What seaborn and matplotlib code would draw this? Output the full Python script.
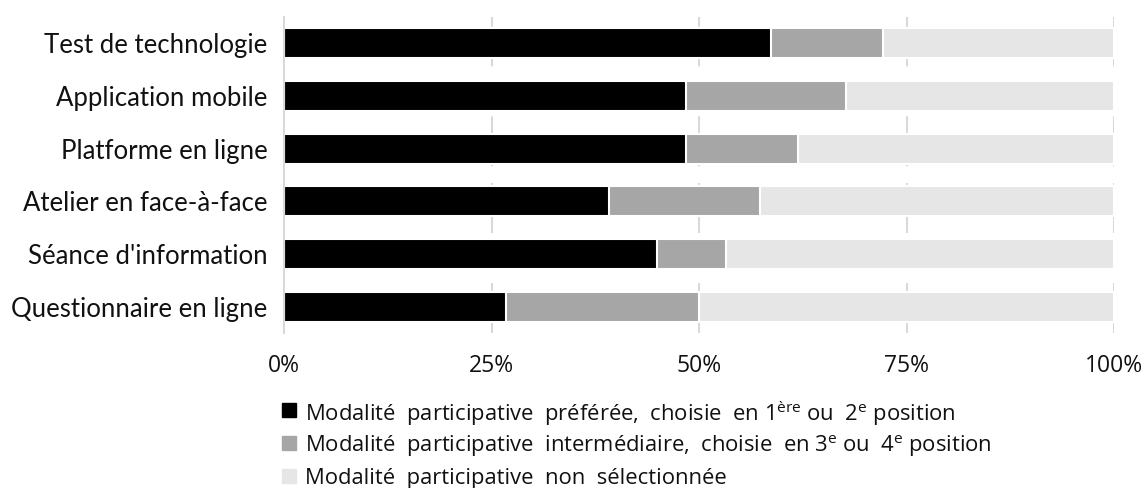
import matplotlib
matplotlib.use("Agg")
import matplotlib.pyplot as plt
import seaborn as sns
import pandas as pd
from matplotlib.lines import Line2D

categories = ["Test de technologie", "Application mobile", "Platforme en ligne",
              "Atelier en face-à-face", "Séance d'information", "Questionnaire en ligne"]
preferee = [58.7, 48.4, 48.4, 39.1, 44.9, 26.8]
intermediaire = [13.5, 19.3, 13.5, 18.2, 8.3, 23.2]
non_selectionnee = [27.8, 32.3, 38.1, 42.7, 46.8, 50.0]
xticks = [0, 25, 50, 75, 100]
xticklabels = ["0%", "25%", "50%", "75%", "100%"]
legend_labels = [
    r"Modalité  participative  préférée,  choisie  en 1$^{\mathrm{ère}}$ ou  2$^{\mathrm{e}}$ position",
    r"Modalité  participative  intermédiaire,  choisie  en 3$^{\mathrm{e}}$ ou  4$^{\mathrm{e}}$ position",
    "Modalité  participative  non  sélectionnée",
]
colors = ["#000000", "#a6a6a6", "#e6e6e6"]

sns.set_theme(style="white")
plt.rcParams["font.family"] = ["Open Sans", "DejaVu Sans"]
plt.rcParams["mathtext.fontset"] = "custom"
plt.rcParams["mathtext.rm"] = "Open Sans"

df = pd.DataFrame({
    "cat": categories,
    "p": preferee,
    "i": intermediaire,
    "n": non_selectionnee,
})
df["c1"] = df["p"]
df["c2"] = df["p"] + df["i"]
df["c3"] = df["p"] + df["i"] + df["n"]

W, H = 1148, 488
fig = plt.figure(figsize=(W / 100, H / 100), dpi=100)
ax = fig.add_axes([0.2474, 0.3168, 0.7230, 0.649])

for col, colr in zip(["c3", "c2", "c1"], colors[::-1]):
    sns.barplot(data=df, y="cat", x=col, color=colr, orient="h", width=0.57,
                edgecolor="white", linewidth=1.5, saturation=1, ax=ax, zorder=3)

ax.set_xlim(0, 100)
ax.set_xticks(xticks)
ax.set_xticklabels(xticklabels, fontsize=16.5, color="#111111")
ax.set_xlabel("")
ax.set_ylabel("")
ax.tick_params(axis="y", length=0, pad=12)
for lab in ax.get_yticklabels():
    lab.set_fontfamily(["Lato", "DejaVu Sans"])
    lab.set_fontsize(18.5)
    lab.set_color("#111111")
ax.tick_params(axis="x", length=0, pad=15)
for s in ["top", "right", "bottom"]:
    ax.spines[s].set_visible(False)
ax.spines["left"].set_color("#d9d9d9")
ax.spines["left"].set_linewidth(1.5)
ax.spines["left"].set_zorder(4)
for t in xticks[1:]:
    ax.axvline(t, color="#d9d9d9", linewidth=1.5, linestyle=(0, (8, 8)), zorder=1)

# legend rows
row_y = [410, 443, 476]
for c, lab, yy in zip(colors, legend_labels, row_y):
    fy = 1 - yy / H
    fig.add_artist(Line2D([288.5 / W], [fy], marker="s", markersize=9.5,
                          markerfacecolor=c, markeredgecolor=c, linestyle="none",
                          transform=fig.transFigure))
    fig.text(305 / W, fy, lab, fontsize=15.8, va="center_baseline", ha="left",
             color="#111111")

fig.savefig("out.png", dpi=100)
